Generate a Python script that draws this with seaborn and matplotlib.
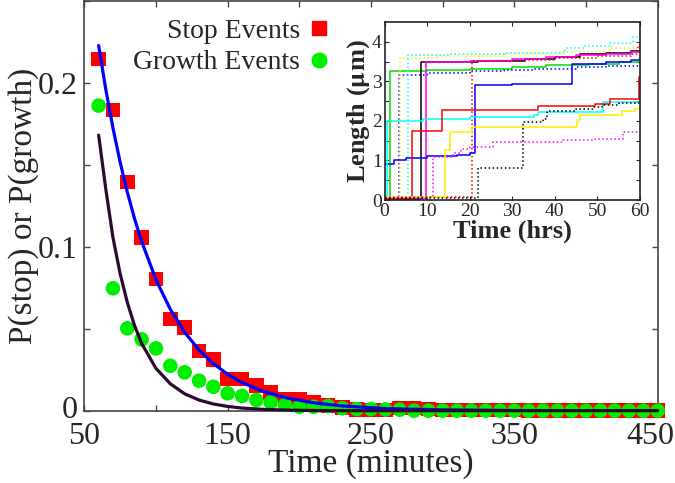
import numpy as np
import pandas as pd
import matplotlib
matplotlib.use("Agg")
import matplotlib.pyplot as plt
import matplotlib.transforms as mtransforms
from matplotlib.lines import Line2D
import seaborn as sns

# Histogram bins (minutes) and event probabilities
time_min = [60, 70, 80, 90, 100, 110, 120, 130, 140, 150, 160, 170, 180, 190, 200,
            210, 220, 230, 240, 250, 260, 270, 280, 290, 300, 310, 320, 330, 340, 350,
            360, 370, 380, 390, 400, 410, 420, 430, 440, 450]
p_stop = [0.2143, 0.1834, 0.1393, 0.1055, 0.0803, 0.0559, 0.0508, 0.0364, 0.0313, 0.0193,
          0.0193, 0.0152, 0.0110, 0.0071, 0.0072, 0.0053, 0.0030, 0.0020, 0.0008, 0.0005,
          0.0005, 0.0016, 0.0016, 0.0010, 0.0004, 0.0004, 0.0005, 0.0005, 0.0005, 0.0005,
          0.0002, 0.0, 0.0, 0.0, 0.0, 0.0, 0.0, 0.0, 0.0, 0.0]
p_growth = [0.186, 0.0746, 0.0502, 0.0435, 0.0380, 0.0274, 0.0234, 0.0183, 0.0146, 0.0106,
            0.0090, 0.0065, 0.0051, 0.0035, 0.0024, 0.0024, 0.0028, 0.0015, 0.0010, 0.0010,
            0.0008, 0.0006, 0.0, 0.0, 0.0, 0.0, 0.0, 0.0, 0.0, 0.0,
            0.0, 0.0, 0.0, 0.0, 0.0, 0.0, 0.0, 0.0, 0.0, 0.0]

# fitted curves
fit_t = [60, 65, 70, 75, 80, 85, 90, 100, 110, 120, 130, 140, 150, 160, 175, 190, 210,
         230, 260, 300, 350, 400, 450]
fit_stop = [0.2226, 0.1958, 0.1723, 0.1515, 0.1333, 0.1172, 0.1032, 0.0798, 0.0618, 0.0478,
            0.0370, 0.0287, 0.0222, 0.0172, 0.0117, 0.0080, 0.0048, 0.0029, 0.0013, 0.0005,
            0.0001, 0.0, 0.0]
fit_growth = [0.168, 0.135, 0.1055, 0.0835, 0.066, 0.052, 0.041, 0.0258, 0.0164, 0.0103,
              0.0065, 0.0041, 0.0026, 0.0016, 0.0008, 0.0004, 0.0001, 0.0, 0.0, 0.0,
              0.0, 0.0, 0.0]

# inset: length traces (hours, micrometres)
traces = [
    ("#00dd00", "-", [0, 1.2, 10, 20, 30, 38, 48, 55, 60],
     [0.03, 3.25, 3.28, 3.3, 3.35, 3.4, 3.45, 3.48, 3.5]),
    ("#0000ff", ":", [0, 3.4, 10, 20, 28, 35, 45, 52, 60],
     [0.02, 3.17, 3.2, 3.25, 3.28, 3.3, 3.35, 3.38, 3.4]),
    ("#ffee00", ":", [0, 3.6, 12, 28, 42, 53, 60],
     [0.05, 3.6, 3.65, 3.7, 3.75, 3.84, 3.9]),
    ("#00ffff", ":", [0, 5.5, 15, 28, 42.5, 47, 53, 58.4, 60],
     [0.03, 3.67, 3.7, 3.72, 3.84, 3.9, 3.97, 4.13, 4.13]),
    ("#000000", "-", [0, 8.5, 22, 33, 40, 46, 52, 58, 60],
     [0.02, 3.48, 3.52, 3.57, 3.62, 3.68, 3.72, 3.77, 3.78]),
    ("#ff00ff", "-", [0, 9.8, 20, 30, 38, 45, 52, 58, 60],
     [0.06, 3.48, 3.52, 3.57, 3.62, 3.66, 3.7, 3.73, 3.75]),
    ("#ff0000", ":", [0, 6, 20.5, 30, 40, 50, 58, 59.6, 60],
     [0.0, 0.08, 3.52, 3.55, 3.6, 3.65, 3.7, 3.93, 3.93]),
    ("#0000ff", "-", [0, 2.3, 5, 10, 17, 20, 21.2, 30, 44, 52, 58, 60],
     [0.9, 1.0, 1.05, 1.1, 1.15, 1.2, 2.9, 2.93, 3.45, 3.5, 3.55, 3.6]),
    ("#00ffff", "-", [0, 0.5, 9, 20, 35, 36, 51.3, 60],
     [0.02, 2.0, 2.05, 2.1, 2.14, 2.22, 2.47, 2.47]),
    ("#ff0000", "-", [0, 6.4, 13.6, 36, 49.4, 53, 59.7, 60],
     [0.03, 1.74, 2.27, 2.38, 2.43, 2.56, 3.1, 3.1]),
    ("#ffee00", "-", [0, 14.2, 15.4, 20.5, 45.1, 45.9, 55.7, 58.8, 60],
     [0.07, 1.26, 1.72, 1.84, 2.01, 2.14, 2.26, 2.3, 2.3]),
    ("#ff00ff", ":", [0, 11.4, 16, 18, 20, 25.5, 42, 49.4, 56, 60],
     [0.08, 1.09, 1.2, 1.3, 1.35, 1.47, 1.51, 1.55, 1.72, 1.72]),
    ("#000000", ":", [0, 22, 32.6, 37.3, 38.1, 45, 49, 51, 55, 60],
     [0.05, 0.82, 1.97, 2.05, 2.26, 2.3, 2.35, 2.4, 2.45, 2.5]),
]

sns.set_theme(style="ticks")
plt.rcParams['font.family'] = ['Liberation Serif', 'DejaVu Serif']
plt.rcParams['mathtext.fontset'] = 'stix'

fig = plt.figure(figsize=(6.75, 4.83), dpi=100)
ax = fig.add_axes([0.1249, 0.1497, 0.8495, 0.849])

ev = pd.DataFrame({"t": time_min, "stop": p_stop, "growth": p_growth})
fits = pd.DataFrame({"t": fit_t, "stop": fit_stop, "growth": fit_growth})

sns.scatterplot(data=ev, x="t", y="stop", ax=ax, marker="s", s=110, color="#ff0000",
                edgecolor="none", clip_on=False, zorder=3)
sns.scatterplot(data=ev, x="t", y="growth", ax=ax, marker="o", s=110, color="#00ee00",
                edgecolor="none", clip_on=False, zorder=4)
sns.lineplot(data=fits, x="t", y="stop", ax=ax, color="#0000ff", lw=2.3,
             estimator=None, sort=False, zorder=5)
sns.lineplot(data=fits, x="t", y="growth", ax=ax, color="#2a0a2e", lw=2.3,
             estimator=None, sort=False, zorder=6, clip_on=False)

ax.set_xlim(50, 450)
ax.set_ylim(0, 0.25)
xt = [50, 100, 150, 200, 250, 300, 350, 400, 450]
ax.set_xticks(xt)
ax.set_xticklabels([str(v) if v % 100 == 50 else "" for v in xt])
yt = [0, 0.05, 0.1, 0.15, 0.2, 0.25]
ax.set_yticks(yt)
ax.set_yticklabels(["0", "", "0.1", "", "0.2", ""])
ax.tick_params(direction="in", length=4.5, width=1, labelsize=23, top=True, right=True,
               color="#444444")
ax.tick_params(axis="x", pad=8)
ax.tick_params(axis="y", pad=5)
# nudge the last x label so it stays inside the figure
shift = mtransforms.ScaledTranslation(-7 / 100, 0, fig.dpi_scale_trans)
lab = ax.get_xticklabels()[-1]
lab.set_transform(lab.get_transform() + shift)
# lift the "0" y label a little so it clears the "50" below it
up = mtransforms.ScaledTranslation(0, 4 / 100, fig.dpi_scale_trans)
lab0 = ax.get_yticklabels()[0]
lab0.set_transform(lab0.get_transform() + up)
for sp in ax.spines.values():
    sp.set_color("#444444")
    sp.set_linewidth(1.2)
ax.set_xlabel("Time (minutes)", fontsize=24, labelpad=-2)
ax.set_ylabel("P(stop) or P(growth)", fontsize=24, labelpad=-1)

handles = [
    Line2D([], [], marker="s", ls="none", color="#ff0000", markersize=10.5),
    Line2D([], [], marker="o", ls="none", color="#00ee00", markersize=10.5),
]
ax.legend(handles, ["Stop Events", "Growth Events"], loc="upper right",
          bbox_to_anchor=(347 / 675, 1 + 1 / 483), bbox_transform=fig.transFigure,
          markerfirst=False, frameon=False, fontsize=20, handlelength=0.6,
          handletextpad=0.4, labelspacing=0.22, borderpad=0.2)

# inset
ins = fig.add_axes([0.5698, 0.5859, 0.3783, 0.3686])
for color, ls, t, L in traces:
    df = pd.DataFrame({"t": t, "L": L})
    sns.lineplot(data=df, x="t", y="L", ax=ins, color=color, ls=ls, lw=1.1,
                 estimator=None, sort=False, drawstyle="steps-post")
ins.set_xlim(0, 60)
ins.set_ylim(0, 4.5)
ins.set_xticks([0, 10, 20, 30, 40, 50, 60])
ins.set_yticks([0, 1, 2, 3, 4])
ins.set_yticks([0.5, 1.5, 2.5, 3.5], minor=True)
ins.tick_params(which="both", direction="in", top=True, right=True, labelsize=14,
                length=3, width=0.8, pad=2)
for sp in ins.spines.values():
    sp.set_color("#222222")
    sp.set_linewidth(1.2)
ins.set_xlabel("Time (hrs)", fontsize=19, fontweight="bold", labelpad=0)
ins.set_ylabel("Length ($\\mathbf{\\mu}$m)", fontsize=19, fontweight="bold", labelpad=0)

fig.savefig("out.png", dpi=100)
